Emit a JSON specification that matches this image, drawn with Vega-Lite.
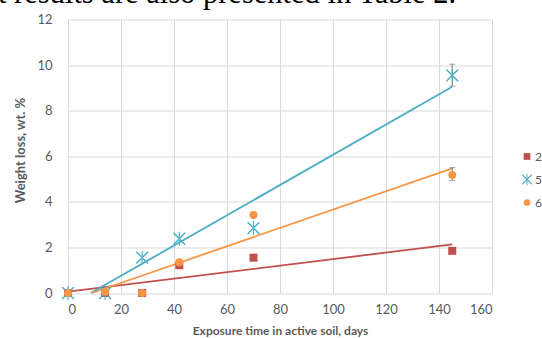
{
  "$schema": "https://vega.github.io/schema/vega-lite/v6.json",
  "autosize": "none",
  "width": 424,
  "height": 273.5,
  "padding": {"left": 68, "top": 19.5, "right": 50, "bottom": 45},
  "title": {
    "text": "t results are also presented in Table 2.",
    "anchor": "start",
    "frame": "group",
    "orient": "top",
    "offset": -20,
    "dx": -70,
    "baseline": "alphabetic",
    "font": "Liberation Serif",
    "fontSize": 30.5,
    "fontWeight": "normal",
    "color": "#000000"
  },
  "datasets": {
    "points": [
      {"series": "2", "days": 0, "loss": 0},
      {"series": "2", "days": 14, "loss": 0},
      {"series": "2", "days": 28, "loss": 0},
      {"series": "2", "days": 42, "loss": 1.22},
      {"series": "2", "days": 70, "loss": 1.55},
      {"series": "2", "days": 145, "loss": 1.85},
      {"series": "5", "days": 0, "loss": 0},
      {"series": "5", "days": 14, "loss": 0},
      {"series": "5", "days": 28, "loss": 1.55},
      {"series": "5", "days": 42, "loss": 2.38},
      {"series": "5", "days": 70, "loss": 2.85},
      {"series": "5", "days": 145, "loss": 9.55},
      {"series": "6", "days": 0, "loss": 0},
      {"series": "6", "days": 14, "loss": 0.05},
      {"series": "6", "days": 28, "loss": 0},
      {"series": "6", "days": 42, "loss": 1.35},
      {"series": "6", "days": 70, "loss": 3.42},
      {"series": "6", "days": 145, "loss": 5.18}
    ],
    "trend": [
      {"series": "2", "days": 0, "loss": 0.06},
      {"series": "2", "days": 145, "loss": 2.13},
      {"series": "5", "days": 8.6, "loss": 0},
      {"series": "5", "days": 145, "loss": 9.05},
      {"series": "6", "days": 9, "loss": 0},
      {"series": "6", "days": 145, "loss": 5.47}
    ],
    "errors": [
      {"series": "5", "days": 145, "lo": 9.08, "hi": 10.04},
      {"series": "6", "days": 145, "lo": 4.93, "hi": 5.5}
    ]
  },
  "encoding": {
    "x": {"field": "days", "type": "quantitative", "title": "Exposure time in active soil, days",
      "scale": {"domain": [0, 160], "nice": false, "padding": 0, "zero": true},
      "axis": {"values": [0, 20, 40, 60, 80, 100, 120, 140, 160], "titleY": 41, "titleBaseline": "alphabetic"}},
    "y": {"field": "loss", "type": "quantitative", "title": "Weight  loss, wt. %",
      "scale": {"domain": [0, 12], "nice": false, "padding": 0},
      "axis": {"values": [0, 2, 4, 6, 8, 10, 12], "titleX": -48, "titleY": 130.5, "titleBaseline": "middle", "titleFontSize": 13}}
  },
  "layer": [
    {
      "data": {"name": "trend"},
      "mark": {"type": "line", "strokeWidth": 1.8},
      "encoding": {
        "stroke": {"field": "series", "type": "nominal", "legend": null,
          "scale": {"domain": ["2", "5", "6"], "range": ["#C0504D", "#4BACC6", "#F79646"]}},
        "detail": {"field": "series"}
      }
    },
    {
      "data": {"name": "errors"},
      "mark": {"type": "rule", "color": "#7f7f7f", "strokeWidth": 1},
      "encoding": {
        "y": {"field": "lo", "type": "quantitative"},
        "y2": {"field": "hi"}
      }
    },
    {
      "data": {"name": "errors"},
      "mark": {"type": "tick", "color": "#7f7f7f", "orient": "horizontal", "size": 6, "thickness": 1},
      "encoding": {
        "y": {"field": "lo", "type": "quantitative"}
      }
    },
    {
      "data": {"name": "errors"},
      "mark": {"type": "tick", "color": "#7f7f7f", "orient": "horizontal", "size": 6, "thickness": 1},
      "encoding": {
        "y": {"field": "hi", "type": "quantitative"}
      }
    },
    {
      "data": {"name": "points"},
      "mark": {"type": "point", "filled": true, "opacity": 1, "size": 64},
      "encoding": {
        "color": {"field": "series", "type": "nominal",
          "scale": {"domain": ["2", "5", "6"], "range": ["#C0504D", "#4BACC6", "#F79646"]},
          "legend": {"title": null, "orient": "none", "legendX": 453, "legendY": 131}},
        "shape": {"field": "series", "type": "nominal",
          "scale": {"domain": ["2", "5", "6"], "range": ["square", "M-1.6,-1.35L1.35,1.6L1.6,1.35L-1.35,-1.6ZM-1.6,1.35L1.35,-1.6L1.6,-1.35L-1.35,1.6ZM-0.14,-1.75L0.14,-1.75L0.14,1.75L-0.14,1.75Z", "circle"]},
          "legend": {"title": null, "orient": "none", "legendX": 453, "legendY": 131}}
      }
    }
  ],
  "resolve": {"legend": {"color": "independent", "shape": "independent"}},
  "config": {
    "view": {"stroke": null},
    "font": "Lato",
    "axis": {
      "gridColor": "#d9d9d9",
      "gridWidth": 1,
      "ticks": false,
      "tickSize": 0,
      "domain": false,
      "labelFont": "Lato",
      "labelFontSize": 13,
      "labelColor": "#595959",
      "titleFont": "Lato",
      "titleFontSize": 12,
      "titleFontWeight": "bold",
      "titleColor": "#595959"
    },
    "axisX": {"labelPadding": 10},
    "axisY": {"labelPadding": 16},
    "legend": {
      "padding": 0,
      "symbolSize": 45,
      "labelFont": "Lato",
      "labelFontSize": 12,
      "labelColor": "#595959",
      "labelOffset": 2,
      "rowPadding": 11
    }
  }
}
